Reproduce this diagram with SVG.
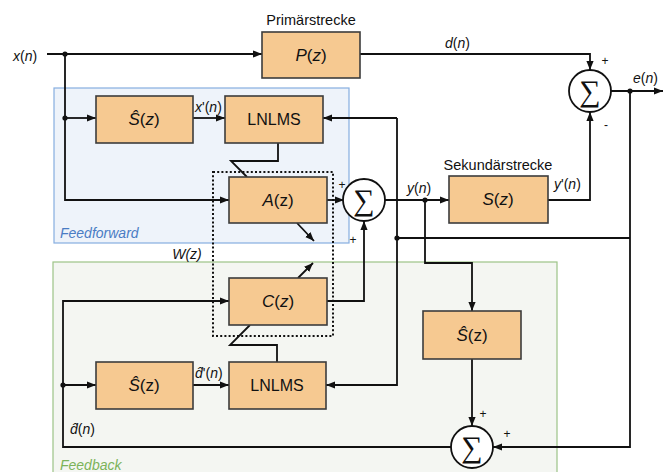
<svg xmlns="http://www.w3.org/2000/svg" width="667" height="472" viewBox="0 0 667 472">
  <style>
    .box { fill: #f6c991; stroke: #3c3c3c; stroke-width: 1.6; }
    .wire { fill: none; stroke: #111; stroke-width: 1.8; }
    .arr { marker-end: url(#ah); }
    .dot { fill: #111; }
    .sum { fill: #fff; stroke: #111; stroke-width: 1.8; }
    .sig { font-family: "Liberation Sans", Arial, sans-serif; font-size: 14px; fill: #111; }
    .lbl { font-family: "Liberation Sans", Arial, sans-serif; font-size: 17px; fill: #111; text-anchor: middle; }
    .cap { font-family: "Liberation Sans", Arial, sans-serif; font-size: 14.5px; fill: #111; text-anchor: middle; }
    .sym { font-family: "Liberation Serif", "DejaVu Serif", serif; font-size: 30px; fill: #111; text-anchor: middle; }
    .pm { font-family: "Liberation Sans", Arial, sans-serif; font-size: 12px; fill: #111; text-anchor: middle; }
    .it { font-style: italic; }
  </style>
  <defs>
    <marker id="ah" viewBox="0 0 10 10" refX="10" refY="5" markerWidth="9" markerHeight="9" markerUnits="userSpaceOnUse" orient="auto">
      <path d="M0,1 L10,5 L0,9 z" fill="#111"/>
    </marker>
  </defs>

  <!-- structure regions -->
  <g id="feedforward-region">
    <rect x="54" y="88" width="295" height="155" fill="#eef3fa" stroke="#86aee0" stroke-width="1.2"/>
    <text x="60" y="238" class="sig it" style="fill:#4a7cc4">Feedforward</text>
  </g>
  <g id="feedback-region">
    <rect x="53" y="262" width="504" height="220" fill="#f4f6f2" stroke="#9cc487" stroke-width="1.2"/>
    <text x="60" y="470" class="sig it" style="fill:#7cb35a">Feedback</text>
  </g>

  <!-- adaptive filter W(z) enclosure -->
  <g id="wz">
    <rect x="213" y="172" width="120" height="164" fill="none" stroke="#111" stroke-width="2" stroke-dasharray="2,2.2"/>
    <text x="187" y="259" class="sig it" text-anchor="middle">W(z)</text>
  </g>

  <!-- connectors -->
  <g id="connectors">
    <path class="wire arr" d="M47,54 H262"/>
    <path class="wire arr" d="M65,54 V200 H229"/>
    <path class="wire arr" d="M65,118 H96"/>
    <path class="wire arr" d="M193,118 H225"/>
    <path class="wire" d="M630,238 H397"/>
    <path class="wire arr" d="M397,118 V385 H326"/>
    <path class="wire arr" d="M397,118 H323"/>
    <path class="wire" d="M278,143 V161 H231 L247,177"/>
    <path class="wire arr" d="M297,223 L314,241"/>
    <path class="wire arr" d="M327,200 H344"/>
    <path class="wire arr" d="M327,301 H364 V221"/>
    <path class="wire arr" d="M385,200 H449"/>
    <path class="wire arr" d="M425,200 V263 H472 V311"/>
    <path class="wire arr" d="M548,200 H590 V112"/>
    <path class="wire arr" d="M360,54 H590 V70"/>
    <path class="wire arr" d="M611,91 H663"/>
    <path class="wire arr" d="M630,91 V447 H493"/>
    <path class="wire arr" d="M472,359 V426"/>
    <path class="wire arr" d="M451,447 H63 V301 H229"/>
    <path class="wire arr" d="M63,385 H96"/>
    <path class="wire arr" d="M193,385 H229"/>
    <path class="wire" d="M277,362 V345 H230 L250,325"/>
    <path class="wire arr" d="M298,278 L313,263"/>
    <circle class="dot" cx="65" cy="54" r="2.6"/>
    <circle class="dot" cx="65" cy="118" r="2.6"/>
    <circle class="dot" cx="397" cy="238" r="2.6"/>
    <circle class="dot" cx="425" cy="200" r="2.6"/>
    <circle class="dot" cx="630" cy="91" r="2.6"/>
    <circle class="dot" cx="63" cy="385" r="2.6"/>
  </g>

  <!-- signal labels -->
  <g id="signals">
    <text x="13" y="61" class="sig"><tspan class="it">x</tspan>(<tspan class="it">n</tspan>)</text>
    <text x="445" y="48" class="sig"><tspan class="it">d</tspan>(<tspan class="it">n</tspan>)</text>
    <text x="633" y="83" class="sig"><tspan class="it">e</tspan>(<tspan class="it">n</tspan>)</text>
    <text x="195" y="112" class="sig"><tspan class="it">x</tspan>'(<tspan class="it">n</tspan>)</text>
    <text x="407" y="193" class="sig"><tspan class="it">y</tspan>(<tspan class="it">n</tspan>)</text>
    <text x="554" y="189" class="sig"><tspan class="it">y</tspan>'(<tspan class="it">n</tspan>)</text>
    <text x="195" y="378" class="sig"><tspan class="it">d̂</tspan>'(<tspan class="it">n</tspan>)</text>
    <text x="70" y="434" class="sig"><tspan class="it">d̂</tspan>(<tspan class="it">n</tspan>)</text>
    <text x="311" y="25" class="cap">Primärstrecke</text>
    <text x="498" y="170" class="cap">Sekundärstrecke</text>
  </g>

  <!-- blocks -->
  <g id="P">
    <rect class="box" x="262" y="32" width="98" height="46"/>
    <text x="311" y="61" class="lbl"><tspan class="it">P</tspan>(<tspan class="it">z</tspan>)</text>
  </g>
  <g id="Shat-ff">
    <rect class="box" x="96" y="96" width="97" height="47"/>
    <text x="144" y="125" class="lbl"><tspan class="it">Ŝ</tspan>(<tspan class="it">z</tspan>)</text>
  </g>
  <g id="LNLMS-ff">
    <rect class="box" x="225" y="96" width="98" height="47"/>
    <text x="274" y="125" class="lbl" style="font-size:16px">LNLMS</text>
  </g>
  <g id="A">
    <rect class="box" x="229" y="177" width="98" height="46"/>
    <text x="278" y="206" class="lbl"><tspan class="it">A</tspan>(z)</text>
  </g>
  <g id="C">
    <rect class="box" x="229" y="278" width="98" height="47"/>
    <text x="278" y="307" class="lbl"><tspan class="it">C</tspan>(<tspan class="it">z</tspan>)</text>
  </g>
  <g id="Shat-fb">
    <rect class="box" x="96" y="362" width="97" height="47"/>
    <text x="144" y="391" class="lbl"><tspan class="it">Ŝ</tspan>(z)</text>
  </g>
  <g id="LNLMS-fb">
    <rect class="box" x="229" y="362" width="97" height="47"/>
    <text x="277" y="391" class="lbl" style="font-size:16px">LNLMS</text>
  </g>
  <g id="S">
    <rect class="box" x="449" y="176" width="99" height="47"/>
    <text x="498" y="205" class="lbl"><tspan class="it">S</tspan>(<tspan class="it">z</tspan>)</text>
  </g>
  <g id="Shat-sec">
    <rect class="box" x="423" y="311" width="98" height="48"/>
    <text x="472" y="341" class="lbl"><tspan class="it">Ŝ</tspan>(z)</text>
  </g>

  <!-- summing junctions -->
  <g id="sum-out">
    <circle class="sum" cx="590" cy="91" r="21"/>
    <text x="590" y="101" class="sym">∑</text>
    <text x="605" y="65" class="pm">+</text>
    <text x="606" y="129" class="pm">-</text>
  </g>
  <g id="sum-ctrl">
    <circle class="sum" cx="364" cy="200" r="21"/>
    <text x="364" y="210" class="sym">∑</text>
    <text x="342" y="189" class="pm">+</text>
    <text x="353" y="244" class="pm">+</text>
  </g>
  <g id="sum-fb">
    <circle class="sum" cx="472" cy="447" r="21"/>
    <text x="472" y="457" class="sym">∑</text>
    <text x="483" y="418" class="pm">+</text>
    <text x="507" y="438" class="pm">+</text>
  </g>
</svg>
